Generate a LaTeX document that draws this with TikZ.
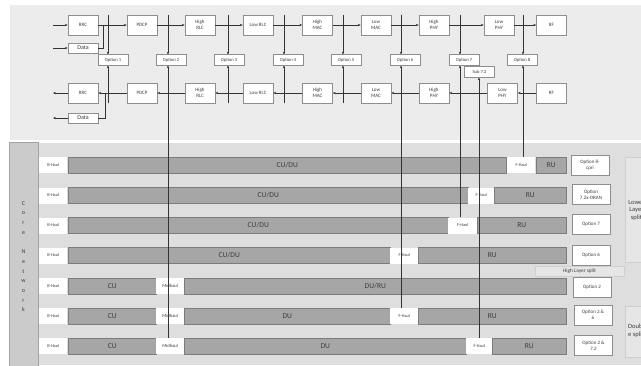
\documentclass[tikz,border=0pt]{standalone}
\usepackage{fontspec}
\setmainfont{Carlito}
\usetikzlibrary{arrows.meta}
\definecolor{topbg}{HTML}{ECECEC}
\definecolor{botbg}{HTML}{DEDEDE}
\definecolor{corebg}{HTML}{CBCBCB}
\definecolor{coreb}{HTML}{A3A3A3}
\definecolor{barf}{HTML}{A6A6A6}
\definecolor{barb}{HTML}{7C7C7C}
\definecolor{boxb}{HTML}{8E8E8E}
\definecolor{txt}{HTML}{3C3C3C}
\definecolor{ln}{HTML}{333333}
\definecolor{splitf}{HTML}{E6E6E6}
\definecolor{splitb}{HTML}{CFCFCF}
\begin{document}
\begin{tikzpicture}[x=1pt,y=-1pt,
  tb/.style={draw=boxb, fill=white, line width=0.7pt, minimum width=30pt, minimum height=20pt, inner sep=0pt, align=center, font=\fontsize{5}{5.6}\selectfont, text=txt},
  databox/.style={tb, minimum height=10pt, font=\fontsize{6}{6}\selectfont},
  opt/.style={draw=boxb, fill=white, line width=0.6pt, minimum width=30pt, minimum height=10.5pt, inner sep=0pt, font=\fontsize{4.6}{5}\selectfont, text=txt},
  conn/.style={draw=ln, line width=0.5pt},
  arr/.style={conn, -{Stealth[length=2.8pt,width=2.4pt]}},
  vline/.style={draw=ln, line width=0.6pt, -{Stealth[length=2.8pt,width=2.4pt]}},
  bar/.style={draw=barb, fill=barf, line width=0.6pt, minimum height=16pt, inner sep=0pt, anchor=west, font=\fontsize{7.5}{8}\selectfont, text=txt},
  haul/.style={fill=white, minimum height=16pt, inner sep=0pt, anchor=west, font=\fontsize{4.3}{5}\selectfont, text=txt},
  lab/.style={draw=boxb, fill=white, line width=0.8pt, minimum width=38pt, minimum height=20pt, inner sep=0pt, align=center, font=\fontsize{5}{5.8}\selectfont, text=txt},
  bigsplit/.style={draw=splitb, fill=splitf, line width=0.6pt, anchor=north west, minimum width=23pt, inner sep=0pt}
]
\useasboundingbox (0,0) rectangle (641,365);
\clip (0,0) rectangle (641,365);
\fill[white] (0,0) rectangle (641,365);
% panels
\fill[topbg] (10,5) rectangle (641,140);
\fill[botbg] (38,143) rectangle (641,365);
\draw[coreb, fill=corebg, line width=0.6pt] (9,142) rectangle (38,366);
\node[text=txt, font=\fontsize{6}{9.7}\selectfont, align=center, inner sep=0pt] (core) at (23.5,256.5)
  {C\\o\\r\\e\\[9.7pt]N\\e\\t\\w\\o\\r\\k};

% ---------- top panel: upper chain ----------
\node[tb] (rrc1) at (83,25) {RRC};
\node[tb] (pdcp1) at (142,25) {PDCP};
\node[tb] (hrlc1) at (200,25) {High\\RLC};
\node[tb] (lrlc1) at (258,25) {Low RLC};
\node[tb] (hmac1) at (317.5,25) {High\\MAC};
\node[tb] (lmac1) at (376,25) {Low\\MAC};
\node[tb] (hphy1) at (434,25) {High\\PHY};
\node[tb] (lphy1) at (499,25) {Low\\PHY};
\node[tb] (rf1) at (551.5,25) {RF};
\node[databox] (data1) at (83,48) {Data};

% ---------- top panel: lower chain ----------
\node[tb] (rrc2) at (83,93) {RRC};
\node[tb] (pdcp2) at (142,93) {PDCP};
\node[tb] (hrlc2) at (200,93) {High\\RLC};
\node[tb] (lrlc2) at (258,93) {Low RLC};
\node[tb] (hmac2) at (317.5,93) {High\\MAC};
\node[tb] (lmac2) at (376,93) {Low\\MAC};
\node[tb] (hphy2) at (434,93) {High\\PHY};
\node[tb] (lphy2) at (502.5,93) {Low\\PHY};
\node[tb] (rf2) at (551.5,93) {RF};
\node[databox] (data2) at (83,118) {Data};

% ---------- option boxes ----------
\node[opt] (o1) at (113,60) {Option 1};
\node[opt] (o2) at (171,60) {Option 2};
\node[opt] (o3) at (229,60) {Option 3};
\node[opt] (o4) at (288,60) {Option 4};
\node[opt] (o5) at (346,60) {Option 5};
\node[opt] (o6) at (405,60) {Option 6};
\node[opt] (o7) at (464,60) {Option 7};
\node[opt] (o8) at (522,60) {Option 8};
\node[opt] (s72) at (479.5,72) {Sub 7.2};

% ---------- chain connectors ----------
\coordinate (in1) at (53,25);
\coordinate (in2) at (53,48);
\coordinate (out1) at (53,93);
\coordinate (out2) at (53,118);
\coordinate (j1) at (103,25);
\coordinate (j2) at (105,93);
\draw[arr] (in1) -- (rrc1.west);
\draw[arr] (in2) -- (data1.west);
\draw[arr] (rrc1.east) -- (pdcp1.west);
\draw[conn] (data1.east) -| (j1);
\draw[arr] (pdcp1.east) -- (hrlc1.west);
\draw[arr] (hrlc1.east) -- (lrlc1.west);
\draw[arr] (lrlc1.east) -- (hmac1.west);
\draw[arr] (hmac1.east) -- (lmac1.west);
\draw[arr] (lmac1.east) -- (hphy1.west);
\draw[arr] (hphy1.east) -- (lphy1.west);
\draw[arr] (lphy1.east) -- (rf1.west);

\draw[arr] (rf2.west) -- (lphy2.east);
\draw[arr] (lphy2.west) -- (hphy2.east);
\draw[arr] (hphy2.west) -- (lmac2.east);
\draw[arr] (lmac2.west) -- (hmac2.east);
\draw[arr] (hmac2.west) -- (lrlc2.east);
\draw[arr] (lrlc2.west) -- (hrlc2.east);
\draw[arr] (hrlc2.west) -- (pdcp2.east);
\draw[arr] (pdcp2.west) -- (rrc2.east);
\draw[arr] (rrc2.west) -- (out1);
\draw[conn] (j2) |- (data2.east);
\draw[arr] (data2.west) -- (out2);

% ---------- bottom panel rows ----------
% row 1
\node[haul, minimum width=28pt] (bh1) at (39,165) {B-Haul};
\node[bar, minimum width=438pt] (cudu1) at (68,165) {CU/DU};
\node[haul, minimum width=28pt] (fh1) at (507,165) {F-Haul};
\node[bar, minimum width=30pt] (ru1) at (536,165) {RU};
\node[lab] (l1) at (590,165) {Option 8-\\cpri};
% row 2
\node[haul, minimum width=28pt] (bh2) at (39,195.5) {B-Haul};
\node[bar, minimum width=400pt] (cudu2) at (68,195.5) {CU/DU};
\node[haul, minimum width=26pt] (fh2) at (468,195.5) {F-Haul};
\node[bar, minimum width=72pt] (ru2) at (494,195.5) {RU};
\node[lab] (l2) at (591,194.5) {Option\\7.2x-ORAN};
% row 3
\node[haul, minimum width=28pt] (bh3) at (39,225.5) {B-Haul};
\node[bar, minimum width=380pt] (cudu3) at (68,225.5) {CU/DU};
\node[haul, minimum width=29pt] (fh3) at (448,225.5) {F-Haul};
\node[bar, minimum width=89pt] (ru3) at (477,225.5) {RU};
\node[lab] (l3) at (591,224) {Option 7};
% row 4
\node[haul, minimum width=28pt] (bh4) at (39,255.5) {B-Haul};
\node[bar, minimum width=322pt] (cudu4) at (68,255.5) {CU/DU};
\node[haul, minimum width=28pt] (fh4) at (390,255.5) {F-Haul};
\node[bar, minimum width=148pt] (ru4) at (418,255.5) {RU};
\node[lab] (l4) at (591,255) {Option 6};
% high layer split
\node[draw=splitb, fill=splitf, line width=0.5pt, minimum width=89pt, minimum height=10pt, inner sep=0pt,
      font=\fontsize{5.3}{6}\selectfont, text=txt] (hls) at (579.5,271) {High Layer split};
% row 5
\node[haul, minimum width=28pt] (bh5) at (39,286) {B-Haul};
\node[bar, minimum width=88pt] (cu5) at (68,286) {CU};
\node[haul, minimum width=28pt, font=\fontsize{4.6}{5}\selectfont] (mh5) at (156,286) {Midhaul};
\node[bar, minimum width=382pt] (duru5) at (184,286) {DU/RU};
\node[lab] (l5) at (592,287) {Option 2};
% row 6
\node[haul, minimum width=28pt] (bh6) at (39,316) {B-Haul};
\node[bar, minimum width=88pt] (cu6) at (68,316) {CU};
\node[haul, minimum width=28pt, font=\fontsize{4.6}{5}\selectfont] (mh6) at (156,316) {Midhaul};
\node[bar, minimum width=206pt] (du6) at (184,316) {DU};
\node[haul, minimum width=28pt] (fh6) at (390,316) {F-Haul};
\node[bar, minimum width=148pt] (ru6) at (418,316) {RU};
\node[lab] (l6) at (593,315) {Option 2 \&\\6};
% row 7
\node[haul, minimum width=28pt] (bh7) at (39,346) {B-Haul};
\node[bar, minimum width=88pt] (cu7) at (68,346) {CU};
\node[haul, minimum width=28pt, font=\fontsize{4.6}{5}\selectfont] (mh7) at (156,346) {Midhaul};
\node[bar, minimum width=282pt] (du7) at (184,346) {DU};
\node[haul, minimum width=26pt] (fh7) at (466,346) {F-Haul};
\node[bar, minimum width=74pt] (ru7) at (492,346) {RU};
\node[lab] (l7) at (593.5,345.5) {Option 2 \&\\7.2};

% right split boxes (cut by the page edge)
\node[bigsplit, minimum height=105pt] (lls) at (625,157) {};
\node[text=txt, font=\fontsize{6.5}{7.5}\selectfont, align=center, inner sep=0pt] (llst) at (636.5,210) {Lower\\Layer\\split};
\node[bigsplit, minimum height=51pt] (dbs) at (625,306) {};
\node[text=txt, font=\fontsize{6.5}{8}\selectfont, align=left, inner sep=0pt, anchor=west] (dbst) at (628,331) {Doubl\\e split};

% ---------- option split lines ----------
\coordinate (x1) at (108,0);
\coordinate (x2) at (168,0);
\coordinate (x3) at (228,0);
\coordinate (x4) at (284,0);
\coordinate (x5) at (343,0);
\coordinate (x6) at (401,0);
\coordinate (x7) at (460,0);
\coordinate (xs) at (479,0);
\coordinate (x8) at (523,0);

\draw[vline] (x1 |- rrc1.north) -- (x1 |- o1.north);
\draw[vline] (x2 |- rrc1.north) -- (x2 |- o2.north);
\draw[vline] (x3 |- rrc1.north) -- (x3 |- o3.north);
\draw[vline] (x4 |- rrc1.north) -- (x4 |- o4.north);
\draw[vline] (x5 |- rrc1.north) -- (x5 |- o5.north);
\draw[vline] (x6 |- rrc1.north) -- (x6 |- o6.north);
\draw[vline] (x7 |- rrc1.north) -- (x7 |- o7.north);
\draw[vline] (x8 |- rrc1.north) -- (x8 |- o8.north);

\draw[vline] (x1 |- rrc2.south) -- (x1 |- o1.south);
\draw[vline] (x3 |- rrc2.south) -- (x3 |- o3.south);
\draw[vline] (x4 |- rrc2.south) -- (x4 |- o4.south);
\draw[vline] (x5 |- rrc2.south) -- (x5 |- o5.south);

\draw[vline] (x2 |- mh7.north) -- (x2 |- o2.south);
\draw[vline] (x6 |- fh6.north) -- (x6 |- o6.south);
\draw[vline] (x7 |- fh3.north) -- (x7 |- o7.south);
\draw[vline] (xs |- fh7.north) -- (xs |- s72.south);
\draw[vline] (x8 |- fh1.north) -- (x8 |- o8.south);
\end{tikzpicture}
\end{document}
